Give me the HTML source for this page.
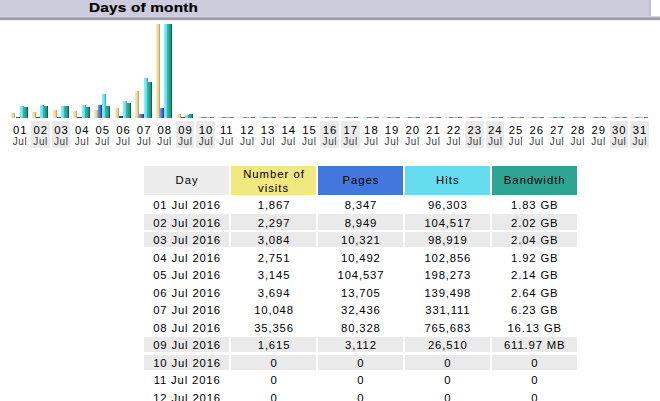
<!DOCTYPE html>
<html><head><meta charset="utf-8">
<style>
html,body{margin:0;padding:0;background:#fff;width:660px;height:401px;overflow:hidden;position:relative}
body{font-family:"Liberation Sans",sans-serif;color:#000}
.a{position:absolute}
.t{position:absolute;white-space:nowrap;line-height:1}
.s{letter-spacing:0.85px;text-indent:0.85px;font-size:11.3px}
.d{letter-spacing:1px;text-indent:1px;font-size:11.3px}
.bv{background:linear-gradient(90deg,#f4eeb8 0,#ece2a0 35%,#e2d48e 65%,#a89062 100%)}
.bp{background:linear-gradient(90deg,#7aa0f0 0,#4a7ce0 35%,#3c68cc 65%,#1a2a78 100%)}
.bh{background:linear-gradient(90deg,#8cf2fc 0,#6ce8f6 40%,#5cdcec 70%,#2a8a98 100%)}
.bk{background:linear-gradient(90deg,#3cb49a 0,#24a284 40%,#1c9472 70%,#064030 100%)}
</style></head><body>

<div class="a" style="left:0;top:0;width:651px;height:16px;background:linear-gradient(90deg,#ccccdd 0,#ccccdd 648px,#c4c4d4 649px,#bebece 651px)"></div>
<div class="a" style="left:0;top:16px;width:660px;height:1px;background:#cecedd"></div>
<div class="a" style="left:0;top:17px;width:660px;height:1px;background:#b6b6c4"></div>
<div class="a" style="left:0;top:18px;width:660px;height:1px;background:#9494a4"></div>
<div class="a" style="left:0;top:19px;width:660px;height:1px;background:#a2a2b0"></div>
<div class="a" style="left:0;top:20px;width:660px;height:1px;background:#ececf0"></div>
<div class="t" style="left:88.8px;top:1.3px;font-weight:bold;font-size:13px;letter-spacing:0.2px;-webkit-text-stroke:0.2px #000;transform-origin:0 0;transform:scaleX(1.175)">Days of month</div>
<div class="a bv" style="left:11.40px;top:113.30px;width:4.1px;height:5px"></div>
<div class="a bp" style="left:15.50px;top:117.30px;width:4.1px;height:1px;background:#34449a"></div>
<div class="a bh" style="left:19.60px;top:106.30px;width:4.1px;height:12px"></div>
<div class="a bk" style="left:23.70px;top:107.30px;width:4.1px;height:11px"></div>
<div class="t d" style="left:-10.30px;width:60px;text-align:center;top:124.6px">01</div>
<div class="t" style="left:-10.30px;width:60px;text-align:center;top:136.6px;font-size:10px;letter-spacing:0.6px;text-indent:0.6px;color:#404040">Jul</div>
<div class="a" style="left:31.06px;top:121.3px;width:18.6px;height:26.7px;background:#eaeaea"></div>
<div class="a bv" style="left:32.06px;top:112.30px;width:4.1px;height:6px"></div>
<div class="a bp" style="left:36.16px;top:117.30px;width:4.1px;height:1px;background:#34449a"></div>
<div class="a bh" style="left:40.26px;top:105.30px;width:4.1px;height:13px"></div>
<div class="a bk" style="left:44.36px;top:106.30px;width:4.1px;height:12px"></div>
<div class="t d" style="left:10.36px;width:60px;text-align:center;top:124.6px">02</div>
<div class="t" style="left:10.36px;width:60px;text-align:center;top:136.6px;font-size:10px;letter-spacing:0.6px;text-indent:0.6px;color:#404040">Jul</div>
<div class="a" style="left:51.72px;top:121.3px;width:18.6px;height:26.7px;background:#eaeaea"></div>
<div class="a bv" style="left:52.72px;top:110.30px;width:4.1px;height:8px"></div>
<div class="a bp" style="left:56.82px;top:117.30px;width:4.1px;height:1px;background:#34449a"></div>
<div class="a bh" style="left:60.92px;top:106.30px;width:4.1px;height:12px"></div>
<div class="a bk" style="left:65.02px;top:106.30px;width:4.1px;height:12px"></div>
<div class="t d" style="left:31.02px;width:60px;text-align:center;top:124.6px">03</div>
<div class="t" style="left:31.02px;width:60px;text-align:center;top:136.6px;font-size:10px;letter-spacing:0.6px;text-indent:0.6px;color:#404040">Jul</div>
<div class="a bv" style="left:73.38px;top:111.30px;width:4.1px;height:7px"></div>
<div class="a bp" style="left:77.48px;top:117.30px;width:4.1px;height:1px;background:#34449a"></div>
<div class="a bh" style="left:81.58px;top:105.30px;width:4.1px;height:13px"></div>
<div class="a bk" style="left:85.68px;top:107.30px;width:4.1px;height:11px"></div>
<div class="t d" style="left:51.68px;width:60px;text-align:center;top:124.6px">04</div>
<div class="t" style="left:51.68px;width:60px;text-align:center;top:136.6px;font-size:10px;letter-spacing:0.6px;text-indent:0.6px;color:#404040">Jul</div>
<div class="a bv" style="left:94.04px;top:110.30px;width:4.1px;height:8px"></div>
<div class="a bp" style="left:98.14px;top:105.30px;width:4.1px;height:13px"></div>
<div class="a bh" style="left:102.24px;top:94.30px;width:4.1px;height:24px"></div>
<div class="a bk" style="left:106.34px;top:106.30px;width:4.1px;height:12px"></div>
<div class="t d" style="left:72.34px;width:60px;text-align:center;top:124.6px">05</div>
<div class="t" style="left:72.34px;width:60px;text-align:center;top:136.6px;font-size:10px;letter-spacing:0.6px;text-indent:0.6px;color:#404040">Jul</div>
<div class="a bv" style="left:114.70px;top:108.30px;width:4.1px;height:10px"></div>
<div class="a bp" style="left:118.80px;top:116.30px;width:4.1px;height:2px;background:#34449a"></div>
<div class="a bh" style="left:122.90px;top:101.30px;width:4.1px;height:17px"></div>
<div class="a bk" style="left:127.00px;top:103.30px;width:4.1px;height:15px"></div>
<div class="t d" style="left:93.00px;width:60px;text-align:center;top:124.6px">06</div>
<div class="t" style="left:93.00px;width:60px;text-align:center;top:136.6px;font-size:10px;letter-spacing:0.6px;text-indent:0.6px;color:#404040">Jul</div>
<div class="a bv" style="left:135.36px;top:91.30px;width:4.1px;height:27px"></div>
<div class="a bp" style="left:139.46px;top:114.30px;width:4.1px;height:4px"></div>
<div class="a bh" style="left:143.56px;top:78.30px;width:4.1px;height:40px"></div>
<div class="a bk" style="left:147.66px;top:82.30px;width:4.1px;height:36px"></div>
<div class="t d" style="left:113.66px;width:60px;text-align:center;top:124.6px">07</div>
<div class="t" style="left:113.66px;width:60px;text-align:center;top:136.6px;font-size:10px;letter-spacing:0.6px;text-indent:0.6px;color:#404040">Jul</div>
<div class="a bv" style="left:156.02px;top:24.30px;width:4.1px;height:94px"></div>
<div class="a bp" style="left:160.12px;top:108.30px;width:4.1px;height:10px"></div>
<div class="a bh" style="left:164.22px;top:24.30px;width:4.1px;height:94px"></div>
<div class="a bk" style="left:168.32px;top:24.30px;width:4.1px;height:94px"></div>
<div class="t d" style="left:134.32px;width:60px;text-align:center;top:124.6px">08</div>
<div class="t" style="left:134.32px;width:60px;text-align:center;top:136.6px;font-size:10px;letter-spacing:0.6px;text-indent:0.6px;color:#404040">Jul</div>
<div class="a" style="left:175.68px;top:121.3px;width:18.6px;height:26.7px;background:#eaeaea"></div>
<div class="a bv" style="left:176.68px;top:114.30px;width:4.1px;height:4px"></div>
<div class="a bp" style="left:180.78px;top:117.30px;width:4.1px;height:1px;background:#34449a"></div>
<div class="a bh" style="left:184.88px;top:115.30px;width:4.1px;height:3px"></div>
<div class="a bk" style="left:188.98px;top:114.30px;width:4.1px;height:4px"></div>
<div class="t d" style="left:154.98px;width:60px;text-align:center;top:124.6px">09</div>
<div class="t" style="left:154.98px;width:60px;text-align:center;top:136.6px;font-size:10px;letter-spacing:0.6px;text-indent:0.6px;color:#404040">Jul</div>
<div class="a" style="left:196.34px;top:121.3px;width:18.6px;height:26.7px;background:#eaeaea"></div>
<div class="a" style="left:197.34px;top:117.30px;width:4.1px;height:1px;background:#e0dcc8"></div>
<div class="a" style="left:201.44px;top:117.30px;width:4.1px;height:1px;background:#7088a4"></div>
<div class="a" style="left:205.54px;top:117.30px;width:4.1px;height:1px;background:#86ccd8"></div>
<div class="a" style="left:209.64px;top:117.30px;width:4.1px;height:1px;background:#4a8c8a"></div>
<div class="t d" style="left:175.64px;width:60px;text-align:center;top:124.6px">10</div>
<div class="t" style="left:175.64px;width:60px;text-align:center;top:136.6px;font-size:10px;letter-spacing:0.6px;text-indent:0.6px;color:#404040">Jul</div>
<div class="a" style="left:218.00px;top:117.30px;width:4.1px;height:1px;background:#e0dcc8"></div>
<div class="a" style="left:222.10px;top:117.30px;width:4.1px;height:1px;background:#7088a4"></div>
<div class="a" style="left:226.20px;top:117.30px;width:4.1px;height:1px;background:#86ccd8"></div>
<div class="a" style="left:230.30px;top:117.30px;width:4.1px;height:1px;background:#4a8c8a"></div>
<div class="t d" style="left:196.30px;width:60px;text-align:center;top:124.6px">11</div>
<div class="t" style="left:196.30px;width:60px;text-align:center;top:136.6px;font-size:10px;letter-spacing:0.6px;text-indent:0.6px;color:#404040">Jul</div>
<div class="a" style="left:238.66px;top:117.30px;width:4.1px;height:1px;background:#e0dcc8"></div>
<div class="a" style="left:242.76px;top:117.30px;width:4.1px;height:1px;background:#7088a4"></div>
<div class="a" style="left:246.86px;top:117.30px;width:4.1px;height:1px;background:#86ccd8"></div>
<div class="a" style="left:250.96px;top:117.30px;width:4.1px;height:1px;background:#4a8c8a"></div>
<div class="t d" style="left:216.96px;width:60px;text-align:center;top:124.6px">12</div>
<div class="t" style="left:216.96px;width:60px;text-align:center;top:136.6px;font-size:10px;letter-spacing:0.6px;text-indent:0.6px;color:#404040">Jul</div>
<div class="a" style="left:259.32px;top:117.30px;width:4.1px;height:1px;background:#e0dcc8"></div>
<div class="a" style="left:263.42px;top:117.30px;width:4.1px;height:1px;background:#7088a4"></div>
<div class="a" style="left:267.52px;top:117.30px;width:4.1px;height:1px;background:#86ccd8"></div>
<div class="a" style="left:271.62px;top:117.30px;width:4.1px;height:1px;background:#4a8c8a"></div>
<div class="t d" style="left:237.62px;width:60px;text-align:center;top:124.6px">13</div>
<div class="t" style="left:237.62px;width:60px;text-align:center;top:136.6px;font-size:10px;letter-spacing:0.6px;text-indent:0.6px;color:#404040">Jul</div>
<div class="a" style="left:279.98px;top:117.30px;width:4.1px;height:1px;background:#e0dcc8"></div>
<div class="a" style="left:284.08px;top:117.30px;width:4.1px;height:1px;background:#7088a4"></div>
<div class="a" style="left:288.18px;top:117.30px;width:4.1px;height:1px;background:#86ccd8"></div>
<div class="a" style="left:292.28px;top:117.30px;width:4.1px;height:1px;background:#4a8c8a"></div>
<div class="t d" style="left:258.28px;width:60px;text-align:center;top:124.6px">14</div>
<div class="t" style="left:258.28px;width:60px;text-align:center;top:136.6px;font-size:10px;letter-spacing:0.6px;text-indent:0.6px;color:#404040">Jul</div>
<div class="a" style="left:300.64px;top:117.30px;width:4.1px;height:1px;background:#e0dcc8"></div>
<div class="a" style="left:304.74px;top:117.30px;width:4.1px;height:1px;background:#7088a4"></div>
<div class="a" style="left:308.84px;top:117.30px;width:4.1px;height:1px;background:#86ccd8"></div>
<div class="a" style="left:312.94px;top:117.30px;width:4.1px;height:1px;background:#4a8c8a"></div>
<div class="t d" style="left:278.94px;width:60px;text-align:center;top:124.6px">15</div>
<div class="t" style="left:278.94px;width:60px;text-align:center;top:136.6px;font-size:10px;letter-spacing:0.6px;text-indent:0.6px;color:#404040">Jul</div>
<div class="a" style="left:320.30px;top:121.3px;width:18.6px;height:26.7px;background:#eaeaea"></div>
<div class="a" style="left:321.30px;top:117.30px;width:4.1px;height:1px;background:#e0dcc8"></div>
<div class="a" style="left:325.40px;top:117.30px;width:4.1px;height:1px;background:#7088a4"></div>
<div class="a" style="left:329.50px;top:117.30px;width:4.1px;height:1px;background:#86ccd8"></div>
<div class="a" style="left:333.60px;top:117.30px;width:4.1px;height:1px;background:#4a8c8a"></div>
<div class="t d" style="left:299.60px;width:60px;text-align:center;top:124.6px">16</div>
<div class="t" style="left:299.60px;width:60px;text-align:center;top:136.6px;font-size:10px;letter-spacing:0.6px;text-indent:0.6px;color:#404040">Jul</div>
<div class="a" style="left:340.96px;top:121.3px;width:18.6px;height:26.7px;background:#eaeaea"></div>
<div class="a" style="left:341.96px;top:117.30px;width:4.1px;height:1px;background:#e0dcc8"></div>
<div class="a" style="left:346.06px;top:117.30px;width:4.1px;height:1px;background:#7088a4"></div>
<div class="a" style="left:350.16px;top:117.30px;width:4.1px;height:1px;background:#86ccd8"></div>
<div class="a" style="left:354.26px;top:117.30px;width:4.1px;height:1px;background:#4a8c8a"></div>
<div class="t d" style="left:320.26px;width:60px;text-align:center;top:124.6px">17</div>
<div class="t" style="left:320.26px;width:60px;text-align:center;top:136.6px;font-size:10px;letter-spacing:0.6px;text-indent:0.6px;color:#404040">Jul</div>
<div class="a" style="left:362.62px;top:117.30px;width:4.1px;height:1px;background:#e0dcc8"></div>
<div class="a" style="left:366.72px;top:117.30px;width:4.1px;height:1px;background:#7088a4"></div>
<div class="a" style="left:370.82px;top:117.30px;width:4.1px;height:1px;background:#86ccd8"></div>
<div class="a" style="left:374.92px;top:117.30px;width:4.1px;height:1px;background:#4a8c8a"></div>
<div class="t d" style="left:340.92px;width:60px;text-align:center;top:124.6px">18</div>
<div class="t" style="left:340.92px;width:60px;text-align:center;top:136.6px;font-size:10px;letter-spacing:0.6px;text-indent:0.6px;color:#404040">Jul</div>
<div class="a" style="left:383.28px;top:117.30px;width:4.1px;height:1px;background:#e0dcc8"></div>
<div class="a" style="left:387.38px;top:117.30px;width:4.1px;height:1px;background:#7088a4"></div>
<div class="a" style="left:391.48px;top:117.30px;width:4.1px;height:1px;background:#86ccd8"></div>
<div class="a" style="left:395.58px;top:117.30px;width:4.1px;height:1px;background:#4a8c8a"></div>
<div class="t d" style="left:361.58px;width:60px;text-align:center;top:124.6px">19</div>
<div class="t" style="left:361.58px;width:60px;text-align:center;top:136.6px;font-size:10px;letter-spacing:0.6px;text-indent:0.6px;color:#404040">Jul</div>
<div class="a" style="left:403.94px;top:117.30px;width:4.1px;height:1px;background:#e0dcc8"></div>
<div class="a" style="left:408.04px;top:117.30px;width:4.1px;height:1px;background:#7088a4"></div>
<div class="a" style="left:412.14px;top:117.30px;width:4.1px;height:1px;background:#86ccd8"></div>
<div class="a" style="left:416.24px;top:117.30px;width:4.1px;height:1px;background:#4a8c8a"></div>
<div class="t d" style="left:382.24px;width:60px;text-align:center;top:124.6px">20</div>
<div class="t" style="left:382.24px;width:60px;text-align:center;top:136.6px;font-size:10px;letter-spacing:0.6px;text-indent:0.6px;color:#404040">Jul</div>
<div class="a" style="left:424.60px;top:117.30px;width:4.1px;height:1px;background:#e0dcc8"></div>
<div class="a" style="left:428.70px;top:117.30px;width:4.1px;height:1px;background:#7088a4"></div>
<div class="a" style="left:432.80px;top:117.30px;width:4.1px;height:1px;background:#86ccd8"></div>
<div class="a" style="left:436.90px;top:117.30px;width:4.1px;height:1px;background:#4a8c8a"></div>
<div class="t d" style="left:402.90px;width:60px;text-align:center;top:124.6px">21</div>
<div class="t" style="left:402.90px;width:60px;text-align:center;top:136.6px;font-size:10px;letter-spacing:0.6px;text-indent:0.6px;color:#404040">Jul</div>
<div class="a" style="left:445.26px;top:117.30px;width:4.1px;height:1px;background:#e0dcc8"></div>
<div class="a" style="left:449.36px;top:117.30px;width:4.1px;height:1px;background:#7088a4"></div>
<div class="a" style="left:453.46px;top:117.30px;width:4.1px;height:1px;background:#86ccd8"></div>
<div class="a" style="left:457.56px;top:117.30px;width:4.1px;height:1px;background:#4a8c8a"></div>
<div class="t d" style="left:423.56px;width:60px;text-align:center;top:124.6px">22</div>
<div class="t" style="left:423.56px;width:60px;text-align:center;top:136.6px;font-size:10px;letter-spacing:0.6px;text-indent:0.6px;color:#404040">Jul</div>
<div class="a" style="left:464.92px;top:121.3px;width:18.6px;height:26.7px;background:#eaeaea"></div>
<div class="a" style="left:465.92px;top:117.30px;width:4.1px;height:1px;background:#e0dcc8"></div>
<div class="a" style="left:470.02px;top:117.30px;width:4.1px;height:1px;background:#7088a4"></div>
<div class="a" style="left:474.12px;top:117.30px;width:4.1px;height:1px;background:#86ccd8"></div>
<div class="a" style="left:478.22px;top:117.30px;width:4.1px;height:1px;background:#4a8c8a"></div>
<div class="t d" style="left:444.22px;width:60px;text-align:center;top:124.6px">23</div>
<div class="t" style="left:444.22px;width:60px;text-align:center;top:136.6px;font-size:10px;letter-spacing:0.6px;text-indent:0.6px;color:#404040">Jul</div>
<div class="a" style="left:485.58px;top:121.3px;width:18.6px;height:26.7px;background:#eaeaea"></div>
<div class="a" style="left:486.58px;top:117.30px;width:4.1px;height:1px;background:#e0dcc8"></div>
<div class="a" style="left:490.68px;top:117.30px;width:4.1px;height:1px;background:#7088a4"></div>
<div class="a" style="left:494.78px;top:117.30px;width:4.1px;height:1px;background:#86ccd8"></div>
<div class="a" style="left:498.88px;top:117.30px;width:4.1px;height:1px;background:#4a8c8a"></div>
<div class="t d" style="left:464.88px;width:60px;text-align:center;top:124.6px">24</div>
<div class="t" style="left:464.88px;width:60px;text-align:center;top:136.6px;font-size:10px;letter-spacing:0.6px;text-indent:0.6px;color:#404040">Jul</div>
<div class="a" style="left:507.24px;top:117.30px;width:4.1px;height:1px;background:#e0dcc8"></div>
<div class="a" style="left:511.34px;top:117.30px;width:4.1px;height:1px;background:#7088a4"></div>
<div class="a" style="left:515.44px;top:117.30px;width:4.1px;height:1px;background:#86ccd8"></div>
<div class="a" style="left:519.54px;top:117.30px;width:4.1px;height:1px;background:#4a8c8a"></div>
<div class="t d" style="left:485.54px;width:60px;text-align:center;top:124.6px">25</div>
<div class="t" style="left:485.54px;width:60px;text-align:center;top:136.6px;font-size:10px;letter-spacing:0.6px;text-indent:0.6px;color:#404040">Jul</div>
<div class="a" style="left:527.90px;top:117.30px;width:4.1px;height:1px;background:#e0dcc8"></div>
<div class="a" style="left:532.00px;top:117.30px;width:4.1px;height:1px;background:#7088a4"></div>
<div class="a" style="left:536.10px;top:117.30px;width:4.1px;height:1px;background:#86ccd8"></div>
<div class="a" style="left:540.20px;top:117.30px;width:4.1px;height:1px;background:#4a8c8a"></div>
<div class="t d" style="left:506.20px;width:60px;text-align:center;top:124.6px">26</div>
<div class="t" style="left:506.20px;width:60px;text-align:center;top:136.6px;font-size:10px;letter-spacing:0.6px;text-indent:0.6px;color:#404040">Jul</div>
<div class="a" style="left:548.56px;top:117.30px;width:4.1px;height:1px;background:#e0dcc8"></div>
<div class="a" style="left:552.66px;top:117.30px;width:4.1px;height:1px;background:#7088a4"></div>
<div class="a" style="left:556.76px;top:117.30px;width:4.1px;height:1px;background:#86ccd8"></div>
<div class="a" style="left:560.86px;top:117.30px;width:4.1px;height:1px;background:#4a8c8a"></div>
<div class="t d" style="left:526.86px;width:60px;text-align:center;top:124.6px">27</div>
<div class="t" style="left:526.86px;width:60px;text-align:center;top:136.6px;font-size:10px;letter-spacing:0.6px;text-indent:0.6px;color:#404040">Jul</div>
<div class="a" style="left:569.22px;top:117.30px;width:4.1px;height:1px;background:#e0dcc8"></div>
<div class="a" style="left:573.32px;top:117.30px;width:4.1px;height:1px;background:#7088a4"></div>
<div class="a" style="left:577.42px;top:117.30px;width:4.1px;height:1px;background:#86ccd8"></div>
<div class="a" style="left:581.52px;top:117.30px;width:4.1px;height:1px;background:#4a8c8a"></div>
<div class="t d" style="left:547.52px;width:60px;text-align:center;top:124.6px">28</div>
<div class="t" style="left:547.52px;width:60px;text-align:center;top:136.6px;font-size:10px;letter-spacing:0.6px;text-indent:0.6px;color:#404040">Jul</div>
<div class="a" style="left:589.88px;top:117.30px;width:4.1px;height:1px;background:#e0dcc8"></div>
<div class="a" style="left:593.98px;top:117.30px;width:4.1px;height:1px;background:#7088a4"></div>
<div class="a" style="left:598.08px;top:117.30px;width:4.1px;height:1px;background:#86ccd8"></div>
<div class="a" style="left:602.18px;top:117.30px;width:4.1px;height:1px;background:#4a8c8a"></div>
<div class="t d" style="left:568.18px;width:60px;text-align:center;top:124.6px">29</div>
<div class="t" style="left:568.18px;width:60px;text-align:center;top:136.6px;font-size:10px;letter-spacing:0.6px;text-indent:0.6px;color:#404040">Jul</div>
<div class="a" style="left:609.54px;top:121.3px;width:18.6px;height:26.7px;background:#eaeaea"></div>
<div class="a" style="left:610.54px;top:117.30px;width:4.1px;height:1px;background:#e0dcc8"></div>
<div class="a" style="left:614.64px;top:117.30px;width:4.1px;height:1px;background:#7088a4"></div>
<div class="a" style="left:618.74px;top:117.30px;width:4.1px;height:1px;background:#86ccd8"></div>
<div class="a" style="left:622.84px;top:117.30px;width:4.1px;height:1px;background:#4a8c8a"></div>
<div class="t d" style="left:588.84px;width:60px;text-align:center;top:124.6px">30</div>
<div class="t" style="left:588.84px;width:60px;text-align:center;top:136.6px;font-size:10px;letter-spacing:0.6px;text-indent:0.6px;color:#404040">Jul</div>
<div class="a" style="left:630.20px;top:121.3px;width:18.6px;height:26.7px;background:#eaeaea"></div>
<div class="a" style="left:631.20px;top:117.30px;width:4.1px;height:1px;background:#e0dcc8"></div>
<div class="a" style="left:635.30px;top:117.30px;width:4.1px;height:1px;background:#7088a4"></div>
<div class="a" style="left:639.40px;top:117.30px;width:4.1px;height:1px;background:#86ccd8"></div>
<div class="a" style="left:643.50px;top:117.30px;width:4.1px;height:1px;background:#4a8c8a"></div>
<div class="t d" style="left:609.50px;width:60px;text-align:center;top:124.6px">31</div>
<div class="t" style="left:609.50px;width:60px;text-align:center;top:136.6px;font-size:10px;letter-spacing:0.6px;text-indent:0.6px;color:#404040">Jul</div>
<div class="a" style="left:144.20px;top:166.2px;width:85px;height:28.7px;background:#ececec"></div>
<div class="t s" style="left:144.20px;width:85px;text-align:center;top:175px;letter-spacing:1px">Day</div>
<div class="a" style="left:231.10px;top:166.2px;width:85px;height:28.7px;background:#f2e880"></div>
<div class="t s" style="left:231.10px;width:85px;text-align:center;top:168px;line-height:13.5px;letter-spacing:1px">Number of<br>visits</div>
<div class="a" style="left:318.00px;top:166.2px;width:85px;height:28.7px;background:#4477dd"></div>
<div class="t s" style="left:318.00px;width:85px;text-align:center;top:175px;letter-spacing:1px">Pages</div>
<div class="a" style="left:404.90px;top:166.2px;width:85px;height:28.7px;background:#66ddee"></div>
<div class="t s" style="left:404.90px;width:85px;text-align:center;top:175px;letter-spacing:1px">Hits</div>
<div class="a" style="left:491.80px;top:166.2px;width:85px;height:28.7px;background:#2ea495"></div>
<div class="t s" style="left:491.80px;width:85px;text-align:center;top:175px;letter-spacing:1px">Bandwidth</div>
<div class="t s" style="left:144.20px;width:85px;text-align:center;top:200.00px">01 Jul 2016</div>
<div class="t s" style="left:231.10px;width:85px;text-align:center;top:200.00px">1,867</div>
<div class="t s" style="left:318.00px;width:85px;text-align:center;top:200.00px">8,347</div>
<div class="t s" style="left:404.90px;width:85px;text-align:center;top:200.00px">96,303</div>
<div class="t s" style="left:491.80px;width:85px;text-align:center;top:200.00px">1.83 GB</div>
<div class="a" style="left:144.20px;top:214.42px;width:85px;height:15.2px;background:#eaeaea"></div>
<div class="t s" style="left:144.20px;width:85px;text-align:center;top:217.52px">02 Jul 2016</div>
<div class="a" style="left:231.10px;top:214.42px;width:85px;height:15.2px;background:#eaeaea"></div>
<div class="t s" style="left:231.10px;width:85px;text-align:center;top:217.52px">2,297</div>
<div class="a" style="left:318.00px;top:214.42px;width:85px;height:15.2px;background:#eaeaea"></div>
<div class="t s" style="left:318.00px;width:85px;text-align:center;top:217.52px">8,949</div>
<div class="a" style="left:404.90px;top:214.42px;width:85px;height:15.2px;background:#eaeaea"></div>
<div class="t s" style="left:404.90px;width:85px;text-align:center;top:217.52px">104,517</div>
<div class="a" style="left:491.80px;top:214.42px;width:85px;height:15.2px;background:#eaeaea"></div>
<div class="t s" style="left:491.80px;width:85px;text-align:center;top:217.52px">2.02 GB</div>
<div class="a" style="left:144.20px;top:231.94px;width:85px;height:15.2px;background:#eaeaea"></div>
<div class="t s" style="left:144.20px;width:85px;text-align:center;top:235.04px">03 Jul 2016</div>
<div class="a" style="left:231.10px;top:231.94px;width:85px;height:15.2px;background:#eaeaea"></div>
<div class="t s" style="left:231.10px;width:85px;text-align:center;top:235.04px">3,084</div>
<div class="a" style="left:318.00px;top:231.94px;width:85px;height:15.2px;background:#eaeaea"></div>
<div class="t s" style="left:318.00px;width:85px;text-align:center;top:235.04px">10,321</div>
<div class="a" style="left:404.90px;top:231.94px;width:85px;height:15.2px;background:#eaeaea"></div>
<div class="t s" style="left:404.90px;width:85px;text-align:center;top:235.04px">98,919</div>
<div class="a" style="left:491.80px;top:231.94px;width:85px;height:15.2px;background:#eaeaea"></div>
<div class="t s" style="left:491.80px;width:85px;text-align:center;top:235.04px">2.04 GB</div>
<div class="t s" style="left:144.20px;width:85px;text-align:center;top:252.56px">04 Jul 2016</div>
<div class="t s" style="left:231.10px;width:85px;text-align:center;top:252.56px">2,751</div>
<div class="t s" style="left:318.00px;width:85px;text-align:center;top:252.56px">10,492</div>
<div class="t s" style="left:404.90px;width:85px;text-align:center;top:252.56px">102,856</div>
<div class="t s" style="left:491.80px;width:85px;text-align:center;top:252.56px">1.92 GB</div>
<div class="t s" style="left:144.20px;width:85px;text-align:center;top:270.08px">05 Jul 2016</div>
<div class="t s" style="left:231.10px;width:85px;text-align:center;top:270.08px">3,145</div>
<div class="t s" style="left:318.00px;width:85px;text-align:center;top:270.08px">104,537</div>
<div class="t s" style="left:404.90px;width:85px;text-align:center;top:270.08px">198,273</div>
<div class="t s" style="left:491.80px;width:85px;text-align:center;top:270.08px">2.14 GB</div>
<div class="t s" style="left:144.20px;width:85px;text-align:center;top:287.60px">06 Jul 2016</div>
<div class="t s" style="left:231.10px;width:85px;text-align:center;top:287.60px">3,694</div>
<div class="t s" style="left:318.00px;width:85px;text-align:center;top:287.60px">13,705</div>
<div class="t s" style="left:404.90px;width:85px;text-align:center;top:287.60px">139,498</div>
<div class="t s" style="left:491.80px;width:85px;text-align:center;top:287.60px">2.64 GB</div>
<div class="t s" style="left:144.20px;width:85px;text-align:center;top:305.12px">07 Jul 2016</div>
<div class="t s" style="left:231.10px;width:85px;text-align:center;top:305.12px">10,048</div>
<div class="t s" style="left:318.00px;width:85px;text-align:center;top:305.12px">32,436</div>
<div class="t s" style="left:404.90px;width:85px;text-align:center;top:305.12px">331,111</div>
<div class="t s" style="left:491.80px;width:85px;text-align:center;top:305.12px">6.23 GB</div>
<div class="t s" style="left:144.20px;width:85px;text-align:center;top:322.64px">08 Jul 2016</div>
<div class="t s" style="left:231.10px;width:85px;text-align:center;top:322.64px">35,356</div>
<div class="t s" style="left:318.00px;width:85px;text-align:center;top:322.64px">80,328</div>
<div class="t s" style="left:404.90px;width:85px;text-align:center;top:322.64px">765,683</div>
<div class="t s" style="left:491.80px;width:85px;text-align:center;top:322.64px">16.13 GB</div>
<div class="a" style="left:144.20px;top:337.06px;width:85px;height:15.2px;background:#eaeaea"></div>
<div class="t s" style="left:144.20px;width:85px;text-align:center;top:340.16px">09 Jul 2016</div>
<div class="a" style="left:231.10px;top:337.06px;width:85px;height:15.2px;background:#eaeaea"></div>
<div class="t s" style="left:231.10px;width:85px;text-align:center;top:340.16px">1,615</div>
<div class="a" style="left:318.00px;top:337.06px;width:85px;height:15.2px;background:#eaeaea"></div>
<div class="t s" style="left:318.00px;width:85px;text-align:center;top:340.16px">3,112</div>
<div class="a" style="left:404.90px;top:337.06px;width:85px;height:15.2px;background:#eaeaea"></div>
<div class="t s" style="left:404.90px;width:85px;text-align:center;top:340.16px">26,510</div>
<div class="a" style="left:491.80px;top:337.06px;width:85px;height:15.2px;background:#eaeaea"></div>
<div class="t s" style="left:491.80px;width:85px;text-align:center;top:340.16px">611.97 MB</div>
<div class="a" style="left:144.20px;top:354.58px;width:85px;height:15.2px;background:#eaeaea"></div>
<div class="t s" style="left:144.20px;width:85px;text-align:center;top:357.68px">10 Jul 2016</div>
<div class="a" style="left:231.10px;top:354.58px;width:85px;height:15.2px;background:#eaeaea"></div>
<div class="t s" style="left:231.10px;width:85px;text-align:center;top:357.68px">0</div>
<div class="a" style="left:318.00px;top:354.58px;width:85px;height:15.2px;background:#eaeaea"></div>
<div class="t s" style="left:318.00px;width:85px;text-align:center;top:357.68px">0</div>
<div class="a" style="left:404.90px;top:354.58px;width:85px;height:15.2px;background:#eaeaea"></div>
<div class="t s" style="left:404.90px;width:85px;text-align:center;top:357.68px">0</div>
<div class="a" style="left:491.80px;top:354.58px;width:85px;height:15.2px;background:#eaeaea"></div>
<div class="t s" style="left:491.80px;width:85px;text-align:center;top:357.68px">0</div>
<div class="t s" style="left:144.20px;width:85px;text-align:center;top:375.20px">11 Jul 2016</div>
<div class="t s" style="left:231.10px;width:85px;text-align:center;top:375.20px">0</div>
<div class="t s" style="left:318.00px;width:85px;text-align:center;top:375.20px">0</div>
<div class="t s" style="left:404.90px;width:85px;text-align:center;top:375.20px">0</div>
<div class="t s" style="left:491.80px;width:85px;text-align:center;top:375.20px">0</div>
<div class="t s" style="left:144.20px;width:85px;text-align:center;top:392.72px">12 Jul 2016</div>
<div class="t s" style="left:231.10px;width:85px;text-align:center;top:392.72px">0</div>
<div class="t s" style="left:318.00px;width:85px;text-align:center;top:392.72px">0</div>
<div class="t s" style="left:404.90px;width:85px;text-align:center;top:392.72px">0</div>
<div class="t s" style="left:491.80px;width:85px;text-align:center;top:392.72px">0</div>
</body></html>
